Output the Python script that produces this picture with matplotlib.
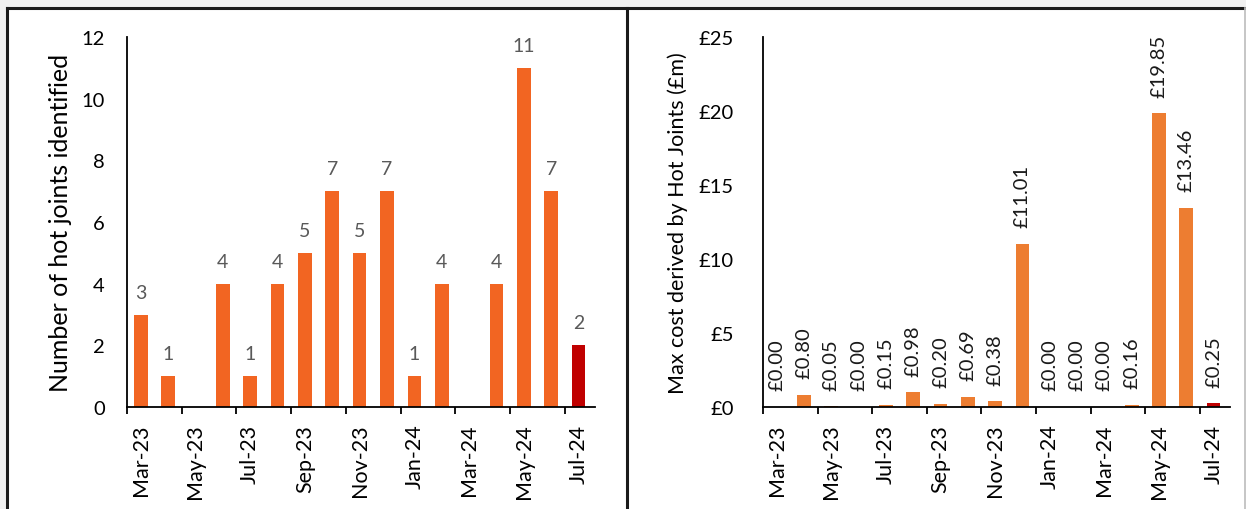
import numpy as np
import matplotlib.pyplot as plt
from matplotlib.lines import Line2D
from matplotlib.patches import Rectangle

plt.rcParams['font.family'] = ['Lato', 'DejaVu Sans']

months = ['Mar-23', 'Apr-23', 'May-23', 'Jun-23', 'Jul-23', 'Aug-23', 'Sep-23', 'Oct-23',
          'Nov-23', 'Dec-23', 'Jan-24', 'Feb-24', 'Mar-24', 'Apr-24', 'May-24', 'Jun-24', 'Jul-24']
hot_joints = [3, 1, 0, 4, 1, 4, 5, 7, 5, 7, 1, 4, 0, 4, 11, 7, 2]
max_cost = [0.00, 0.80, 0.05, 0.00, 0.15, 0.98, 0.20, 0.69, 0.38, 11.01,
            0.00, 0.00, 0.00, 0.16, 19.85, 13.46, 0.25]

W, H = 1246, 510
fig = plt.figure(figsize=(W / 100, H / 100), dpi=100)
fig.patch.set_facecolor('#f0f0f0')

# panel backgrounds and borders (figure pixel coords)
def fx(px):
    return px / W

def fy(py):
    return (H - py) / H

fig.patches.append(Rectangle((fx(7), 0), fx(1244) - fx(7), fy(9), transform=fig.transFigure,
                             facecolor='white', edgecolor='none', zorder=-5))
for xs, ys, c in [([fx(7), fx(1244)], [fy(9), fy(9)], '#1a1a1a'),
                  ([fx(7), fx(7)], [0, fy(9)], '#1a1a1a'),
                  ([fx(627), fx(627)], [0, fy(9)], '#1a1a1a'),
                  ([fx(1244.5), fx(1244.5)], [0, fy(9)], '#bfbfbf')]:
    fig.lines.append(Line2D(xs, ys, transform=fig.transFigure, color=c, lw=2.2 if c != '#bfbfbf' else 1.2))

x = np.arange(len(months))
tick_pos = np.arange(-0.5, len(months) - 1, 2)
label_pos = np.arange(0, len(months), 2)


def style_axis(ax, pad_y):
    ax.set_facecolor('none')
    for s in ['top', 'right']:
        ax.spines[s].set_visible(False)
    ax.spines['left'].set_color('black')
    ax.spines['bottom'].set_color('black')
    ax.spines['left'].set_linewidth(1.3)
    ax.spines['bottom'].set_linewidth(1.3)
    ax.set_xlim(-0.5, len(months) - 0.4)
    ax.set_xticks(label_pos)
    ax.set_xticklabels([months[i] for i in label_pos], rotation=90, fontsize=15.5)
    ax.set_xticks(tick_pos, minor=True)
    ax.tick_params(axis='x', which='major', length=0, pad=12)
    ax.tick_params(axis='x', which='minor', length=5, width=1.3, direction='out')
    ax.tick_params(axis='y', length=0, pad=pad_y, labelsize=14.5)


colors = ['#f26522'] * (len(months) - 1) + ['#c00000']
ax1 = fig.add_axes([fx(127), fy(408), fx(595) - fx(127), fy(38) - fy(408)])
ax1.bar(x, hot_joints, width=0.5, color=colors)
ax1.set_ylim(0, 12)
ax1.set_yticks(range(0, 13, 2))
style_axis(ax1, 16)
for xi, v in zip(x, hot_joints):
    if v > 0:
        ax1.annotate(str(v), (xi, v), xytext=(0, 10), textcoords='offset points',
                     ha='center', va='bottom', fontsize=14, color='#595959')
ax1.set_ylabel('Number of hot joints identified', fontsize=18)
ax1.yaxis.set_label_coords(-0.118, 0.5)

colors2 = ['#ed7d31'] * (len(months) - 1) + ['#c00000']
ax2 = fig.add_axes([fx(763), fy(408), fx(1230) - fx(763), fy(38) - fy(408)])
ax2.bar(x, max_cost, width=0.5, color=colors2)
ax2.set_ylim(0, 25)
ax2.set_yticks(range(0, 26, 5))
ax2.set_yticklabels([f'£{v}' for v in range(0, 26, 5)])
style_axis(ax2, 21)
for xi, v in zip(x, max_cost):
    ax2.annotate(f'£{v:.2f}', (xi, v), xytext=(0, 12), textcoords='offset points',
                 ha='center', va='bottom', rotation=90, fontsize=14.5, color='#1a1a1a')
ax2.set_ylabel('Max cost derived by Hot Joints (£m)', fontsize=15.5)
ax2.yaxis.set_label_coords(-0.16, 0.5)

fig.savefig('out.png', dpi=100, facecolor=fig.get_facecolor())
